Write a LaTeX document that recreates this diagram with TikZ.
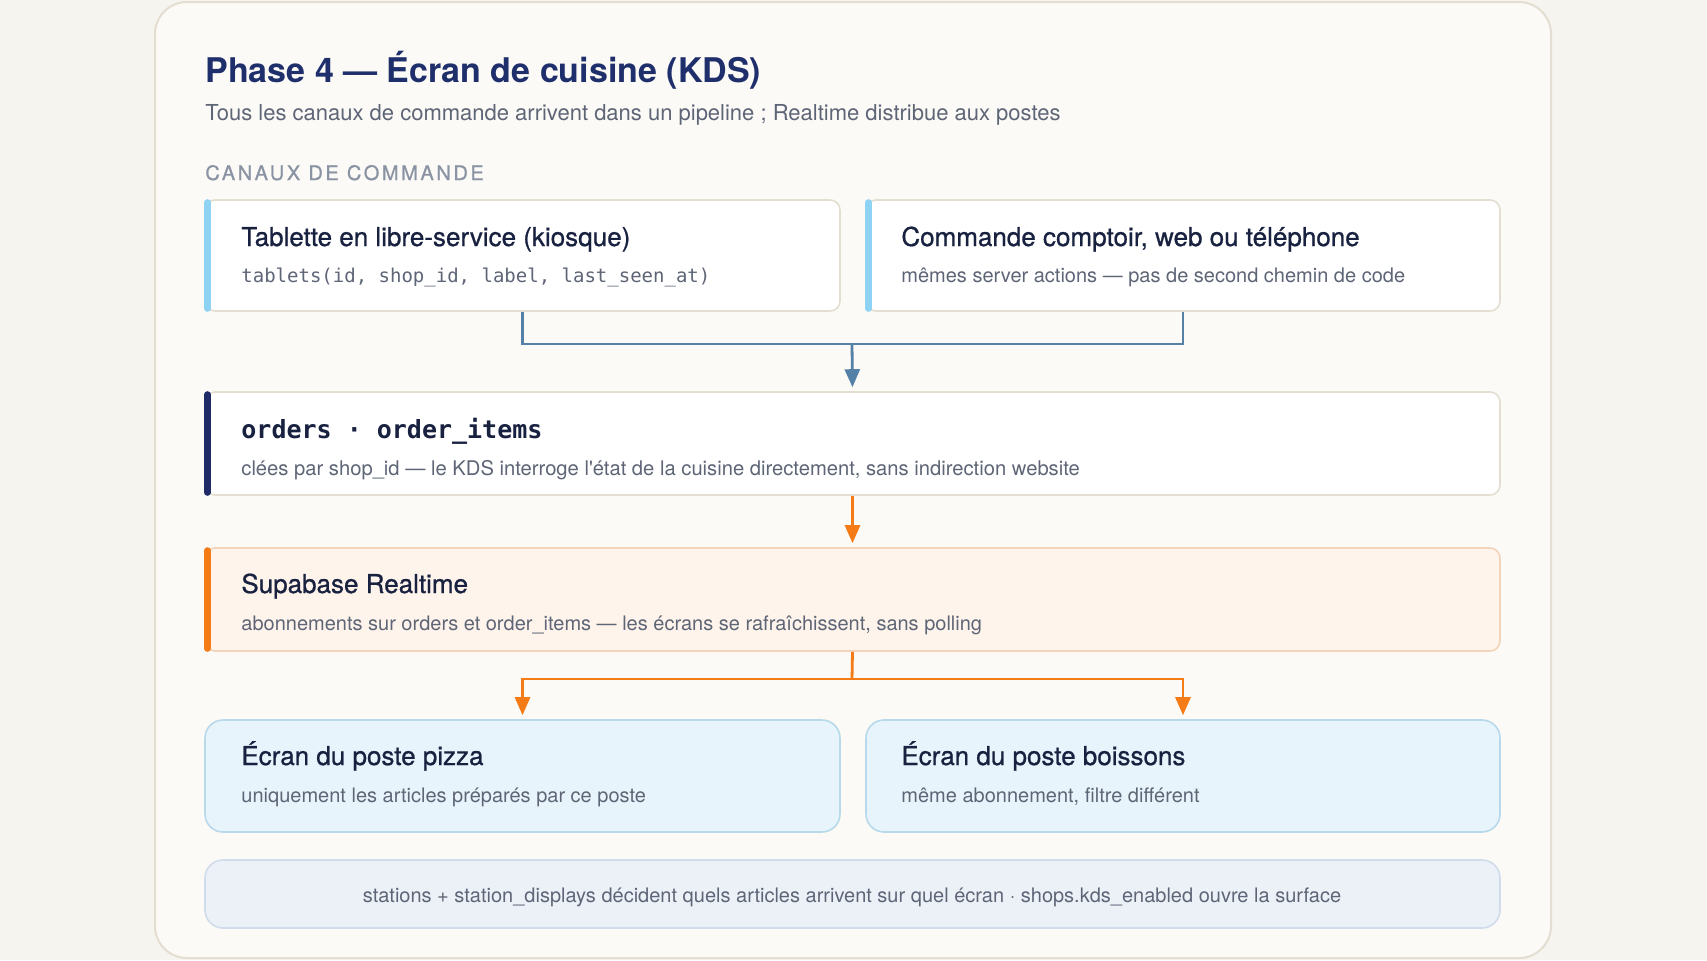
\documentclass[tikz,border=0pt]{standalone}
\usepackage{fontspec}
\usepackage{tikz}
\setmainfont{TeX Gyre Heros}[Ligatures=TeXOff]
\setmonofont{DejaVu Sans Mono}
\newfontfamily\medfont{TeX Gyre Heros}[FakeBold=0.8, Ligatures=TeXOff]
\usetikzlibrary{arrows.meta}
\usetikzlibrary{positioning}
\usetikzlibrary{fit}
\definecolor{mpage}{HTML}{F6F4EE}
\definecolor{mcard}{HTML}{FBFAF6}
\definecolor{mrule}{HTML}{E3DED1}
\definecolor{mnavy}{HTML}{1F2F6B}
\definecolor{mink}{HTML}{18213F}
\definecolor{mgrey}{HTML}{5E6576}
\definecolor{mlabel}{HTML}{8A93A3}
\definecolor{mcyan}{HTML}{8FD3F4}
\definecolor{mdeep}{HTML}{1F2B66}
\definecolor{morange}{HTML}{F47B16}
\definecolor{mpeach}{HTML}{FEF4EB}
\definecolor{mpeachrule}{HTML}{F3D4BA}
\definecolor{msky}{HTML}{E8F4FC}
\definecolor{mskyrule}{HTML}{B8D9EC}
\definecolor{mnote}{HTML}{ECF1F8}
\definecolor{mnoterule}{HTML}{D0DCEC}
\definecolor{msteel}{HTML}{5580A7}
\tikzset{box/.style = {draw = mrule, fill = white, line width = 0.8pt,
                       rounded corners = 5pt, inner sep = 0}}
\tikzset{bar/.style = {line width = 3.2pt, line cap = round}}
\tikzset{head/.style = {anchor = base west, inner sep = 0, text = mink,
                        font = \medfont\fontsize{13}{15}\selectfont}}
\tikzset{sub/.style = {anchor = base west, inner sep = 0, text = mgrey,
                       font = \fontsize{10}{12}\selectfont}}
\tikzset{link/.style = {line width = 1.4pt}}
\tikzset{tipped/.style = {-{Triangle[length = 9pt, width = 7.5pt]}}}

\begin{document}
\begin{tikzpicture}[x=0.5pt, y=-0.5pt]
      \useasboundingbox [fill = mpage] (0, 0) rectangle (1707, 960);
      \draw [fill = mcard, draw = mrule, line width = 1pt, rounded corners = 16pt]
            (155, 2) rectangle (1551, 958);

      % title block
      \node [anchor = base west, inner sep = 0, text = mnavy,
             font = \bfseries\fontsize{17}{20}\selectfont] (title) at (205, 82)
            {Phase 4 — Écran de cuisine (KDS)};
      \node [sub, font = \fontsize{11}{13}\selectfont] (lead) at (205, 120)
            {Tous les canaux de commande arrivent dans un pipeline ; Realtime distribue aux postes};
      \node [anchor = base west, inner sep = 0, text = mlabel,
             font = \medfont\addfontfeature{LetterSpace=13}\fontsize{10}{12}\selectfont] (canaux) at (205, 180)
            {CANAUX DE COMMANDE};

      % channels
      \node [box, fit = {(205, 200) (840, 311)}] (tab) {};
      \node [box, fit = {(866, 200) (1500, 311)}] (comp) {};
      \draw [bar, mcyan] ([xshift = 1.6pt, yshift = -1.6pt]tab.north west) -- ([xshift = 1.6pt, yshift = 1.6pt]tab.south west);
      \draw [bar, mcyan] ([xshift = 1.6pt, yshift = -1.6pt]comp.north west) -- ([xshift = 1.6pt, yshift = 1.6pt]comp.south west);
      \node [head] (tabhead) at (241, 246) {Tablette en libre-service (kiosque)};
      \node [sub, font = \ttfamily\fontsize{9.5}{12}\selectfont] (tabsub) at (241, 282)
            {tablets(id, shop\_id, label, last\_seen\_at)};
      \node [head] (comphead) at (901, 246) {Commande comptoir, web ou téléphone};
      \node [sub] (compsub) at (901, 282) {mêmes server actions — pas de second chemin de code};

      % pipeline
      \node [box, fit = {(205, 392) (1500, 495)}] (orders) {};
      \draw [bar, mdeep] ([xshift = 1.6pt, yshift = -1.6pt]orders.north west) -- ([xshift = 1.6pt, yshift = 1.6pt]orders.south west);
      \node [head, font = \ttfamily\bfseries\fontsize{12.5}{14}\selectfont] (ordhead) at (241, 438)
            {orders · order\_items};
      \node [sub, font = \fontsize{10.1}{12}\selectfont] (ordsub) at (241, 475)
            {clées par shop\_id — le KDS interroge l'état de la cuisine directement, sans indirection website};

      \node [box, fill = mpeach, draw = mpeachrule, fit = {(205, 548) (1500, 651)}] (rt) {};
      \draw [bar, morange] ([xshift = 1.6pt, yshift = -1.6pt]rt.north west) -- ([xshift = 1.6pt, yshift = 1.6pt]rt.south west);
      \node [head] (rthead) at (241, 593) {Supabase Realtime};
      \node [sub] (rtsub) at (241, 630)
            {abonnements sur orders et order\_items — les écrans se rafraîchissent, sans polling};

      % stations
      \node [box, fill = msky, draw = mskyrule, rounded corners = 9pt, fit = {(205, 720) (840, 832)}] (pizza) {};
      \node [box, fill = msky, draw = mskyrule, rounded corners = 9pt, fit = {(866, 720) (1500, 832)}] (drinks) {};
      \node [head] (pizzahead) at (241, 765) {Écran du poste pizza};
      \node [sub] (pizzasub) at (241, 802) {uniquement les articles préparés par ce poste};
      \node [head] (drinkshead) at (901, 765) {Écran du poste boissons};
      \node [sub] (drinkssub) at (901, 802) {même abonnement, filtre différent};

      \node [box, fill = mnote, draw = mnoterule, rounded corners = 9pt, fit = {(205, 860) (1500, 928)}] (note) {};
      \node [sub, anchor = base] (notetext) at (852, 902)
            {stations + station\_displays décident quels articles arrivent sur quel écran · shops.kds\_enabled ouvre la surface};

      % connectors
      \coordinate (join) at (852, 344);
      \coordinate (fork) at (852, 679);
      \draw [link, msteel] (tab.south) |- (join) -| (comp.south);
      \draw [link, msteel, tipped] (join) -- ([yshift = 2pt]orders.north);
      \draw [link, morange, tipped] (orders.south) -- ([yshift = 2pt]rt.north);
      \draw [link, morange] (rt.south) -- (fork);
      \draw [link, morange, tipped] (fork) -| ([yshift = 2pt]pizza.north);
      \draw [link, morange, tipped] (fork) -| ([yshift = 2pt]drinks.north);
    \end{tikzpicture}
\end{document}
